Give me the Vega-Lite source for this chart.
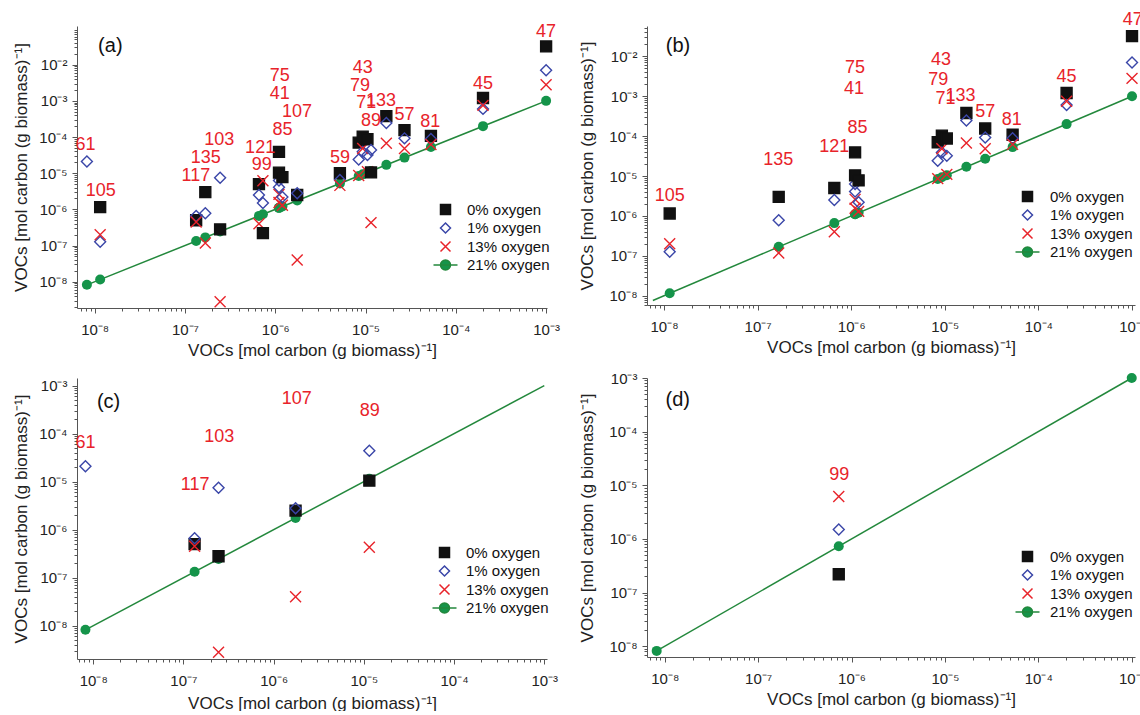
{
  "$schema": "https://vega.github.io/schema/vega-lite/v6.json",
  "padding": {"left": 12, "top": 10, "right": 0, "bottom": 0},
  "background": "white",
  "config": {
    "font": "Liberation Sans",
    "view": {"stroke": null},
    "axis": {"grid": false, "labelFontSize": 15, "titleFontSize": 17, "titleFontWeight": "normal", "labelColor": "#222", "titleColor": "#222", "domainColor": "#555", "tickColor": "#555", "labelFlush": false, "labelOverlap": false}
  },
  "datasets": {
    "line": [
      {"p": "a", "x": 8.2e-9, "y": 8.2e-9}, {"p": "a", "x": 1e-3, "y": 1e-3},
      {"p": "b", "x": 7.6e-9, "y": 7.6e-9}, {"p": "b", "x": 1e-3, "y": 1e-3},
      {"p": "c", "x": 8.2e-9, "y": 8.2e-9}, {"p": "c", "x": 1e-3, "y": 1e-3},
      {"p": "d", "x": 8.2e-9, "y": 8.2e-9}, {"p": "d", "x": 1e-3, "y": 1e-3}
    ],
    "pts": [
      {"c": "61", "g": "1% oxygen", "x": 8.2e-9, "y": 2.1e-5, "p": "ac"},
      {"c": "61", "g": "21% oxygen", "x": 8.2e-9, "y": 8.2e-9, "p": "acd"},
      {"c": "105", "g": "0% oxygen", "x": 1.15e-8, "y": 1.15e-6, "p": "ab"},
      {"c": "105", "g": "1% oxygen", "x": 1.15e-8, "y": 1.27e-7, "p": "ab"},
      {"c": "105", "g": "13% oxygen", "x": 1.15e-8, "y": 2.0e-7, "p": "ab"},
      {"c": "105", "g": "21% oxygen", "x": 1.15e-8, "y": 1.15e-8, "p": "ab"},
      {"c": "117", "g": "0% oxygen", "x": 1.33e-7, "y": 5.0e-7, "p": "ac"},
      {"c": "117", "g": "1% oxygen", "x": 1.33e-7, "y": 6.6e-7, "p": "ac"},
      {"c": "117", "g": "13% oxygen", "x": 1.33e-7, "y": 4.5e-7, "p": "ac"},
      {"c": "117", "g": "21% oxygen", "x": 1.33e-7, "y": 1.33e-7, "p": "ac"},
      {"c": "135", "g": "0% oxygen", "x": 1.68e-7, "y": 3.0e-6, "p": "ab"},
      {"c": "135", "g": "1% oxygen", "x": 1.68e-7, "y": 7.8e-7, "p": "ab"},
      {"c": "135", "g": "13% oxygen", "x": 1.68e-7, "y": 1.18e-7, "p": "ab"},
      {"c": "135", "g": "21% oxygen", "x": 1.68e-7, "y": 1.68e-7, "p": "ab"},
      {"c": "103", "g": "0% oxygen", "x": 2.45e-7, "y": 2.8e-7, "p": "ac"},
      {"c": "103", "g": "1% oxygen", "x": 2.45e-7, "y": 7.5e-6, "p": "ac"},
      {"c": "103", "g": "13% oxygen", "x": 2.45e-7, "y": 2.8e-9, "p": "ac"},
      {"c": "103", "g": "21% oxygen", "x": 2.45e-7, "y": 2.45e-7, "p": "ac"},
      {"c": "121", "g": "0% oxygen", "x": 6.6e-7, "y": 5.0e-6, "p": "ab"},
      {"c": "121", "g": "1% oxygen", "x": 6.6e-7, "y": 2.5e-6, "p": "ab"},
      {"c": "121", "g": "13% oxygen", "x": 6.6e-7, "y": 4.0e-7, "p": "ab"},
      {"c": "121", "g": "21% oxygen", "x": 6.6e-7, "y": 6.6e-7, "p": "ab"},
      {"c": "99", "g": "0% oxygen", "x": 7.3e-7, "y": 2.2e-7, "p": "ad"},
      {"c": "99", "g": "1% oxygen", "x": 7.3e-7, "y": 1.5e-6, "p": "ad"},
      {"c": "99", "g": "13% oxygen", "x": 7.3e-7, "y": 6.2e-6, "p": "ad"},
      {"c": "99", "g": "21% oxygen", "x": 7.3e-7, "y": 7.3e-7, "p": "ad"},
      {"c": "85", "g": "0% oxygen", "x": 1.1e-6, "y": 3.9e-5, "p": "ab"},
      {"c": "85", "g": "1% oxygen", "x": 1.1e-6, "y": 6.3e-6, "p": "ab"},
      {"c": "85", "g": "13% oxygen", "x": 1.1e-6, "y": 2.6e-6, "p": "ab"},
      {"c": "85", "g": "21% oxygen", "x": 1.1e-6, "y": 1.1e-6, "p": "ab"},
      {"c": "75", "g": "0% oxygen", "x": 1.1e-6, "y": 1.04e-5, "p": "ab"},
      {"c": "75", "g": "1% oxygen", "x": 1.1e-6, "y": 4.1e-6, "p": "ab"},
      {"c": "75", "g": "13% oxygen", "x": 1.1e-6, "y": 1.55e-6, "p": "ab"},
      {"c": "75", "g": "21% oxygen", "x": 1.1e-6, "y": 1.1e-6, "p": "ab"},
      {"c": "41", "g": "0% oxygen", "x": 1.2e-6, "y": 7.8e-6, "p": "ab"},
      {"c": "41", "g": "1% oxygen", "x": 1.2e-6, "y": 2.2e-6, "p": "ab"},
      {"c": "41", "g": "13% oxygen", "x": 1.2e-6, "y": 1.3e-6, "p": "ab"},
      {"c": "41", "g": "21% oxygen", "x": 1.2e-6, "y": 1.2e-6, "p": "ab"},
      {"c": "107", "g": "0% oxygen", "x": 1.75e-6, "y": 2.5e-6, "p": "ac"},
      {"c": "107", "g": "1% oxygen", "x": 1.75e-6, "y": 2.8e-6, "p": "ac"},
      {"c": "107", "g": "13% oxygen", "x": 1.75e-6, "y": 4.0e-8, "p": "ac"},
      {"c": "107", "g": "21% oxygen", "x": 1.75e-6, "y": 1.75e-6, "p": "ac"},
      {"c": "59", "g": "0% oxygen", "x": 5.2e-6, "y": 1.0e-5, "p": "a"},
      {"c": "59", "g": "1% oxygen", "x": 5.2e-6, "y": 6.5e-6, "p": "a"},
      {"c": "59", "g": "13% oxygen", "x": 5.2e-6, "y": 4.6e-6, "p": "a"},
      {"c": "59", "g": "21% oxygen", "x": 5.2e-6, "y": 5.2e-6, "p": "a"},
      {"c": "79", "g": "0% oxygen", "x": 8.4e-6, "y": 7.0e-5, "p": "ab"},
      {"c": "79", "g": "1% oxygen", "x": 8.4e-6, "y": 2.4e-5, "p": "ab"},
      {"c": "79", "g": "13% oxygen", "x": 8.4e-6, "y": 8.6e-6, "p": "ab"},
      {"c": "79", "g": "21% oxygen", "x": 8.4e-6, "y": 8.4e-6, "p": "ab"},
      {"c": "43", "g": "0% oxygen", "x": 9.3e-6, "y": 1.03e-4, "p": "ab"},
      {"c": "43", "g": "1% oxygen", "x": 9.3e-6, "y": 3.9e-5, "p": "ab"},
      {"c": "43", "g": "13% oxygen", "x": 9.3e-6, "y": 4.8e-5, "p": "ab"},
      {"c": "43", "g": "21% oxygen", "x": 9.3e-6, "y": 9.3e-6, "p": "ab"},
      {"c": "71", "g": "0% oxygen", "x": 1.05e-5, "y": 8.7e-5, "p": "ab"},
      {"c": "71", "g": "1% oxygen", "x": 1.05e-5, "y": 3.2e-5, "p": "ab"},
      {"c": "71", "g": "13% oxygen", "x": 1.05e-5, "y": 1.1e-5, "p": "ab"},
      {"c": "71", "g": "21% oxygen", "x": 1.05e-5, "y": 1.05e-5, "p": "ab"},
      {"c": "89", "g": "0% oxygen", "x": 1.15e-5, "y": 1.05e-5, "p": "ac"},
      {"c": "89", "g": "1% oxygen", "x": 1.15e-5, "y": 4.4e-5, "p": "ac"},
      {"c": "89", "g": "13% oxygen", "x": 1.15e-5, "y": 4.3e-7, "p": "ac"},
      {"c": "89", "g": "21% oxygen", "x": 1.15e-5, "y": 1.15e-5, "p": "ac"},
      {"c": "133", "g": "0% oxygen", "x": 1.7e-5, "y": 3.8e-4, "p": "ab"},
      {"c": "133", "g": "1% oxygen", "x": 1.7e-5, "y": 2.45e-4, "p": "ab"},
      {"c": "133", "g": "13% oxygen", "x": 1.7e-5, "y": 6.7e-5, "p": "ab"},
      {"c": "133", "g": "21% oxygen", "x": 1.7e-5, "y": 1.7e-5, "p": "ab"},
      {"c": "57", "g": "0% oxygen", "x": 2.7e-5, "y": 1.55e-4, "p": "ab"},
      {"c": "57", "g": "1% oxygen", "x": 2.7e-5, "y": 9.2e-5, "p": "ab"},
      {"c": "57", "g": "13% oxygen", "x": 2.7e-5, "y": 4.8e-5, "p": "ab"},
      {"c": "57", "g": "21% oxygen", "x": 2.7e-5, "y": 2.7e-5, "p": "ab"},
      {"c": "81", "g": "0% oxygen", "x": 5.3e-5, "y": 1.08e-4, "p": "ab"},
      {"c": "81", "g": "1% oxygen", "x": 5.3e-5, "y": 8.8e-5, "p": "ab"},
      {"c": "81", "g": "13% oxygen", "x": 5.3e-5, "y": 6.2e-5, "p": "ab"},
      {"c": "81", "g": "21% oxygen", "x": 5.3e-5, "y": 5.3e-5, "p": "ab"},
      {"c": "45", "g": "0% oxygen", "x": 2.0e-4, "y": 1.2e-3, "p": "ab"},
      {"c": "45", "g": "1% oxygen", "x": 2.0e-4, "y": 6.0e-4, "p": "ab"},
      {"c": "45", "g": "13% oxygen", "x": 2.0e-4, "y": 7.5e-4, "p": "ab"},
      {"c": "45", "g": "21% oxygen", "x": 2.0e-4, "y": 2.0e-4, "p": "ab"},
      {"c": "47", "g": "0% oxygen", "x": 1.0e-3, "y": 3.2e-2, "p": "ab"},
      {"c": "47", "g": "1% oxygen", "x": 1.0e-3, "y": 7.0e-3, "p": "ab"},
      {"c": "47", "g": "13% oxygen", "x": 1.0e-3, "y": 2.8e-3, "p": "ab"},
      {"c": "47", "g": "21% oxygen", "x": 1.0e-3, "y": 1.0e-3, "p": "abd"}
    ],
    "lab": [
      {"p": "a", "t": "61", "x": 7.9e-9, "y": 6.2e-5},
      {"p": "a", "t": "105", "x": 1.17e-8, "y": 3.2e-6},
      {"p": "a", "t": "117", "x": 1.32e-7, "y": 8.5e-6},
      {"p": "a", "t": "135", "x": 1.7e-7, "y": 2.6e-5},
      {"p": "a", "t": "103", "x": 2.4e-7, "y": 8.3e-5},
      {"p": "a", "t": "121", "x": 6.8e-7, "y": 5.1e-5},
      {"p": "a", "t": "99", "x": 7.1e-7, "y": 1.7e-5},
      {"p": "a", "t": "75", "x": 1.12e-6, "y": 5.0e-3},
      {"p": "a", "t": "41", "x": 1.12e-6, "y": 1.5e-3},
      {"p": "a", "t": "107", "x": 1.74e-6, "y": 5.0e-4},
      {"p": "a", "t": "85", "x": 1.2e-6, "y": 1.55e-4},
      {"p": "a", "t": "59", "x": 5.2e-6, "y": 2.6e-5},
      {"p": "a", "t": "43", "x": 9.3e-6, "y": 7.9e-3},
      {"p": "a", "t": "79", "x": 8.7e-6, "y": 2.5e-3},
      {"p": "a", "t": "71", "x": 1.02e-5, "y": 8.5e-4},
      {"p": "a", "t": "133", "x": 1.48e-5, "y": 1.0e-3},
      {"p": "a", "t": "89", "x": 1.15e-5, "y": 2.8e-4},
      {"p": "a", "t": "57", "x": 2.7e-5, "y": 4.1e-4},
      {"p": "a", "t": "81", "x": 5.2e-5, "y": 2.6e-4},
      {"p": "a", "t": "45", "x": 2.0e-4, "y": 2.9e-3},
      {"p": "a", "t": "47", "x": 1.0e-3, "y": 7.8e-2},
      {"p": "b", "t": "105", "x": 1.15e-8, "y": 3.1e-6},
      {"p": "b", "t": "135", "x": 1.66e-7, "y": 2.5e-5},
      {"p": "b", "t": "121", "x": 6.6e-7, "y": 5.2e-5},
      {"p": "b", "t": "75", "x": 1.1e-6, "y": 5.1e-3},
      {"p": "b", "t": "41", "x": 1.07e-6, "y": 1.5e-3},
      {"p": "b", "t": "85", "x": 1.17e-6, "y": 1.6e-4},
      {"p": "b", "t": "43", "x": 9.1e-6, "y": 8.3e-3},
      {"p": "b", "t": "79", "x": 8.5e-6, "y": 2.6e-3},
      {"p": "b", "t": "71", "x": 1.02e-5, "y": 8.5e-4},
      {"p": "b", "t": "133", "x": 1.47e-5, "y": 1.0e-3},
      {"p": "b", "t": "57", "x": 2.7e-5, "y": 4.1e-4},
      {"p": "b", "t": "81", "x": 5.2e-5, "y": 2.5e-4},
      {"p": "b", "t": "45", "x": 2.0e-4, "y": 3.1e-3},
      {"p": "b", "t": "47", "x": 1.02e-3, "y": 8.3e-2},
      {"p": "c", "t": "61", "x": 8.2e-9, "y": 6.3e-5},
      {"p": "c", "t": "117", "x": 1.35e-7, "y": 8.5e-6},
      {"p": "c", "t": "103", "x": 2.5e-7, "y": 8.4e-5},
      {"p": "c", "t": "107", "x": 1.8e-6, "y": 5.3e-4},
      {"p": "c", "t": "89", "x": 1.16e-5, "y": 2.9e-4},
      {"p": "d", "t": "99", "x": 7.4e-7, "y": 1.55e-5}
    ],
    "tag": [
      {"p": "a", "t": "(a)", "x": 1.49e-8, "y": 3.35e-2},
      {"p": "b", "t": "(b)", "x": 1.41e-8, "y": 1.85e-2},
      {"p": "c", "t": "(c)", "x": 1.48e-8, "y": 4.5e-4},
      {"p": "d", "t": "(d)", "x": 1.38e-8, "y": 3.9e-4}
    ]
  },
  "columns": 2,
  "spacing": {"row": 70, "column": 100},
  "align": "each",
  "bounds": "flush",
  "resolve": {
    "scale": {"shape": "independent", "fill": "independent", "stroke": "independent"},
    "legend": {"shape": "independent", "fill": "independent", "stroke": "independent"}
  },
  "concat": [
    {
      "width": 470, "height": 282,
      "resolve": {"axis": {"x": "independent", "y": "independent"}},
      "layer": [
        {
          "data": {"name": "line"}, "transform": [{"filter": "datum.p == 'a'"}],
          "mark": {"type": "line", "color": "#23883c", "strokeWidth": 1.5},
          "encoding": {
            "x": {"field": "x", "type": "quantitative", "scale": {"type": "log", "domain": [6.37e-9, 1.023e-3], "nice": false},
              "axis": {"orient": "bottom", "values": [1e-8, 1e-7, 1e-6, 1e-5, 1e-4, 1e-3], "labelExpr": "'10⁻' + substring('⁰¹²³⁴⁵⁶⁷⁸⁹', round(-log(datum.value)/LN10), round(-log(datum.value)/LN10)+1)", "tickSize": 5, "labelPadding": 9, "title": "VOCs [mol carbon (g biomass)⁻¹]", "titlePadding": 5}},
            "y": {"field": "y", "type": "quantitative", "scale": {"type": "log", "domain": [1.875e-9, 0.1175], "nice": false},
              "axis": {"orient": "left", "values": [1e-8, 1e-7, 1e-6, 1e-5, 1e-4, 1e-3, 1e-2], "labelExpr": "'10⁻' + substring('⁰¹²³⁴⁵⁶⁷⁸⁹', round(-log(datum.value)/LN10), round(-log(datum.value)/LN10)+1)", "tickSize": 5, "labelPadding": 5, "title": "VOCs [mol carbon (g biomass)⁻¹]", "titlePadding": 8}}
          }
        },
        {
          "data": {"name": "pts"}, "transform": [{"filter": "indexof(datum.p, 'a') >= 0 && datum.g == '21% oxygen'"}],
          "mark": {"type": "circle", "size": 100, "color": "#15944a", "opacity": 1},
          "encoding": {
            "x": {"field": "x", "type": "quantitative", "scale": {"type": "log", "domain": [6.37e-9, 1.023e-3], "nice": false},
              "axis": {"orient": "bottom", "values": [7e-9, 8e-9, 9e-9, 2e-8, 3e-8, 4e-8, 5e-8, 6e-8, 7e-8, 8e-8, 9e-8, 2e-7, 3e-7, 4e-7, 5e-7, 6e-7, 7e-7, 8e-7, 9e-7, 2e-6, 3e-6, 4e-6, 5e-6, 6e-6, 7e-6, 8e-6, 9e-6, 2e-5, 3e-5, 4e-5, 5e-5, 6e-5, 7e-5, 8e-5, 9e-5, 2e-4, 3e-4, 4e-4, 5e-4, 6e-4, 7e-4, 8e-4, 9e-4], "labels": false, "domain": false, "tickSize": 3, "title": null}},
            "y": {"field": "y", "type": "quantitative", "scale": {"type": "log", "domain": [1.875e-9, 0.1175], "nice": false},
              "axis": {"orient": "left", "values": [2e-9, 3e-9, 4e-9, 5e-9, 6e-9, 7e-9, 8e-9, 9e-9, 2e-8, 3e-8, 4e-8, 5e-8, 6e-8, 7e-8, 8e-8, 9e-8, 2e-7, 3e-7, 4e-7, 5e-7, 6e-7, 7e-7, 8e-7, 9e-7, 2e-6, 3e-6, 4e-6, 5e-6, 6e-6, 7e-6, 8e-6, 9e-6, 2e-5, 3e-5, 4e-5, 5e-5, 6e-5, 7e-5, 8e-5, 9e-5, 2e-4, 3e-4, 4e-4, 5e-4, 6e-4, 7e-4, 8e-4, 9e-4, 2e-3, 3e-3, 4e-3, 5e-3, 6e-3, 7e-3, 8e-3, 9e-3, 2e-2, 3e-2, 4e-2, 5e-2, 6e-2, 7e-2, 8e-2, 9e-2], "labels": false, "domain": false, "tickSize": 3, "title": null}}
          }
        },
        {
          "data": {"name": "pts"}, "transform": [{"filter": "indexof(datum.p, 'a') >= 0 && datum.g != '21% oxygen'"}],
          "mark": {"type": "point", "size": 120, "strokeWidth": 1.4, "opacity": 1},
          "encoding": {
            "x": {"field": "x", "type": "quantitative", "scale": {"type": "log", "domain": [6.37e-9, 1.023e-3], "nice": false}, "axis": null},
            "y": {"field": "y", "type": "quantitative", "scale": {"type": "log", "domain": [1.875e-9, 0.1175], "nice": false}, "axis": null},
            "shape": {"field": "g", "type": "nominal", "scale": {"domain": ["0% oxygen", "1% oxygen", "13% oxygen", "21% oxygen"], "range": ["square", "diamond", "M-1,-1L1,1M-1,1L1,-1", "M-2.4,0L2.4,0M1,0A1,1,0,1,1,-1,0A1,1,0,1,1,1,0Z"]},
              "legend": {"orient": "none", "legendX": 361, "legendY": 176, "title": null, "labelFontSize": 15, "symbolSize": 100, "symbolStrokeWidth": 1.5, "labelOffset": 14, "rowPadding": 1.5, "labelColor": "#111"}},
            "fill": {"field": "g", "type": "nominal", "scale": {"domain": ["0% oxygen", "1% oxygen", "13% oxygen", "21% oxygen"], "range": ["#111111", "transparent", "transparent", "#15944a"]},
              "legend": {"orient": "none", "legendX": 361, "legendY": 176, "title": null, "labelFontSize": 15, "symbolSize": 100, "symbolStrokeWidth": 1.5, "labelOffset": 14, "rowPadding": 1.5, "labelColor": "#111"}},
            "stroke": {"field": "g", "type": "nominal", "scale": {"domain": ["0% oxygen", "1% oxygen", "13% oxygen", "21% oxygen"], "range": ["#111111", "#3a46a8", "#e8232a", "#23883c"]},
              "legend": {"orient": "none", "legendX": 361, "legendY": 176, "title": null, "labelFontSize": 15, "symbolSize": 100, "symbolStrokeWidth": 1.5, "labelOffset": 14, "rowPadding": 1.5, "labelColor": "#111"}}
          }
        },
        {
          "data": {"name": "lab"}, "transform": [{"filter": "datum.p == 'a'"}],
          "mark": {"type": "text", "fontSize": 18, "color": "#e8232a"},
          "encoding": {
            "x": {"field": "x", "type": "quantitative", "scale": {"type": "log", "domain": [6.37e-9, 1.023e-3], "nice": false}, "axis": null},
            "y": {"field": "y", "type": "quantitative", "scale": {"type": "log", "domain": [1.875e-9, 0.1175], "nice": false}, "axis": null},
            "text": {"field": "t"}
          }
        },
        {
          "data": {"name": "tag"}, "transform": [{"filter": "datum.p == 'a'"}],
          "mark": {"type": "text", "fontSize": 20, "color": "#111"},
          "encoding": {
            "x": {"field": "x", "type": "quantitative", "scale": {"type": "log", "domain": [6.37e-9, 1.023e-3], "nice": false}, "axis": null},
            "y": {"field": "y", "type": "quantitative", "scale": {"type": "log", "domain": [1.875e-9, 0.1175], "nice": false}, "axis": null},
            "text": {"field": "t"}
          }
        }
      ]
    },
    {
      "width": 488, "height": 279,
      "resolve": {"axis": {"x": "independent", "y": "independent"}},
      "layer": [
        {
          "data": {"name": "line"}, "transform": [{"filter": "datum.p == 'b'"}],
          "mark": {"type": "line", "color": "#23883c", "strokeWidth": 1.5},
          "encoding": {
            "x": {"field": "x", "type": "quantitative", "scale": {"type": "log", "domain": [6.58e-9, 1.076e-3], "nice": false},
              "axis": {"orient": "bottom", "values": [1e-8, 1e-7, 1e-6, 1e-5, 1e-4, 1e-3], "labelExpr": "'10⁻' + substring('⁰¹²³⁴⁵⁶⁷⁸⁹', round(-log(datum.value)/LN10), round(-log(datum.value)/LN10)+1)", "tickSize": 5, "labelPadding": 9, "title": "VOCs [mol carbon (g biomass)⁻¹]", "titlePadding": 5}},
            "y": {"field": "y", "type": "quantitative", "scale": {"type": "log", "domain": [5.85e-9, 0.0575], "nice": false},
              "axis": {"orient": "left", "values": [1e-8, 1e-7, 1e-6, 1e-5, 1e-4, 1e-3, 1e-2], "labelExpr": "'10⁻' + substring('⁰¹²³⁴⁵⁶⁷⁸⁹', round(-log(datum.value)/LN10), round(-log(datum.value)/LN10)+1)", "tickSize": 5, "labelPadding": 5, "title": "VOCs [mol carbon (g biomass)⁻¹]", "titlePadding": 12}}
          }
        },
        {
          "data": {"name": "pts"}, "transform": [{"filter": "indexof(datum.p, 'b') >= 0 && datum.g == '21% oxygen'"}],
          "mark": {"type": "circle", "size": 100, "color": "#15944a", "opacity": 1},
          "encoding": {
            "x": {"field": "x", "type": "quantitative", "scale": {"type": "log", "domain": [6.58e-9, 1.076e-3], "nice": false},
              "axis": {"orient": "bottom", "values": [7e-9, 8e-9, 9e-9, 2e-8, 3e-8, 4e-8, 5e-8, 6e-8, 7e-8, 8e-8, 9e-8, 2e-7, 3e-7, 4e-7, 5e-7, 6e-7, 7e-7, 8e-7, 9e-7, 2e-6, 3e-6, 4e-6, 5e-6, 6e-6, 7e-6, 8e-6, 9e-6, 2e-5, 3e-5, 4e-5, 5e-5, 6e-5, 7e-5, 8e-5, 9e-5, 2e-4, 3e-4, 4e-4, 5e-4, 6e-4, 7e-4, 8e-4, 9e-4], "labels": false, "domain": false, "tickSize": 3, "title": null}},
            "y": {"field": "y", "type": "quantitative", "scale": {"type": "log", "domain": [5.85e-9, 0.0575], "nice": false},
              "axis": {"orient": "left", "values": [6e-9, 7e-9, 8e-9, 9e-9, 2e-8, 3e-8, 4e-8, 5e-8, 6e-8, 7e-8, 8e-8, 9e-8, 2e-7, 3e-7, 4e-7, 5e-7, 6e-7, 7e-7, 8e-7, 9e-7, 2e-6, 3e-6, 4e-6, 5e-6, 6e-6, 7e-6, 8e-6, 9e-6, 2e-5, 3e-5, 4e-5, 5e-5, 6e-5, 7e-5, 8e-5, 9e-5, 2e-4, 3e-4, 4e-4, 5e-4, 6e-4, 7e-4, 8e-4, 9e-4, 2e-3, 3e-3, 4e-3, 5e-3, 6e-3, 7e-3, 8e-3, 9e-3, 2e-2, 3e-2, 4e-2, 5e-2], "labels": false, "domain": false, "tickSize": 3, "title": null}}
          }
        },
        {
          "data": {"name": "pts"}, "transform": [{"filter": "indexof(datum.p, 'b') >= 0 && datum.g != '21% oxygen'"}],
          "mark": {"type": "point", "size": 120, "strokeWidth": 1.4, "opacity": 1},
          "encoding": {
            "x": {"field": "x", "type": "quantitative", "scale": {"type": "log", "domain": [6.58e-9, 1.076e-3], "nice": false}, "axis": null},
            "y": {"field": "y", "type": "quantitative", "scale": {"type": "log", "domain": [5.85e-9, 0.0575], "nice": false}, "axis": null},
            "shape": {"field": "g", "type": "nominal", "scale": {"domain": ["0% oxygen", "1% oxygen", "13% oxygen", "21% oxygen"], "range": ["square", "diamond", "M-1,-1L1,1M-1,1L1,-1", "M-2.4,0L2.4,0M1,0A1,1,0,1,1,-1,0A1,1,0,1,1,1,0Z"]},
              "legend": {"orient": "none", "legendX": 373, "legendY": 163, "title": null, "labelFontSize": 15, "symbolSize": 100, "symbolStrokeWidth": 1.5, "labelOffset": 15, "rowPadding": 1.5, "labelColor": "#111"}},
            "fill": {"field": "g", "type": "nominal", "scale": {"domain": ["0% oxygen", "1% oxygen", "13% oxygen", "21% oxygen"], "range": ["#111111", "transparent", "transparent", "#15944a"]},
              "legend": {"orient": "none", "legendX": 373, "legendY": 163, "title": null, "labelFontSize": 15, "symbolSize": 100, "symbolStrokeWidth": 1.5, "labelOffset": 15, "rowPadding": 1.5, "labelColor": "#111"}},
            "stroke": {"field": "g", "type": "nominal", "scale": {"domain": ["0% oxygen", "1% oxygen", "13% oxygen", "21% oxygen"], "range": ["#111111", "#3a46a8", "#e8232a", "#23883c"]},
              "legend": {"orient": "none", "legendX": 373, "legendY": 163, "title": null, "labelFontSize": 15, "symbolSize": 100, "symbolStrokeWidth": 1.5, "labelOffset": 15, "rowPadding": 1.5, "labelColor": "#111"}}
          }
        },
        {
          "data": {"name": "lab"}, "transform": [{"filter": "datum.p == 'b'"}],
          "mark": {"type": "text", "fontSize": 18, "color": "#e8232a"},
          "encoding": {
            "x": {"field": "x", "type": "quantitative", "scale": {"type": "log", "domain": [6.58e-9, 1.076e-3], "nice": false}, "axis": null},
            "y": {"field": "y", "type": "quantitative", "scale": {"type": "log", "domain": [5.85e-9, 0.0575], "nice": false}, "axis": null},
            "text": {"field": "t"}
          }
        },
        {
          "data": {"name": "tag"}, "transform": [{"filter": "datum.p == 'b'"}],
          "mark": {"type": "text", "fontSize": 20, "color": "#111"},
          "encoding": {
            "x": {"field": "x", "type": "quantitative", "scale": {"type": "log", "domain": [6.58e-9, 1.076e-3], "nice": false}, "axis": null},
            "y": {"field": "y", "type": "quantitative", "scale": {"type": "log", "domain": [5.85e-9, 0.0575], "nice": false}, "axis": null},
            "text": {"field": "t"}
          }
        }
      ]
    },
    {
      "width": 470, "height": 281,
      "resolve": {"axis": {"x": "independent", "y": "independent"}},
      "layer": [
        {
          "data": {"name": "line"}, "transform": [{"filter": "datum.p == 'c'"}],
          "mark": {"type": "line", "color": "#23883c", "strokeWidth": 1.5},
          "encoding": {
            "x": {"field": "x", "type": "quantitative", "scale": {"type": "log", "domain": [6.61e-9, 1.072e-3], "nice": false},
              "axis": {"orient": "bottom", "values": [1e-8, 1e-7, 1e-6, 1e-5, 1e-4, 1e-3], "labelExpr": "'10⁻' + substring('⁰¹²³⁴⁵⁶⁷⁸⁹', round(-log(datum.value)/LN10), round(-log(datum.value)/LN10)+1)", "tickSize": 5, "labelPadding": 9, "title": "VOCs [mol carbon (g biomass)⁻¹]", "titlePadding": 7}},
            "y": {"field": "y", "type": "quantitative", "scale": {"type": "log", "domain": [2.02e-9, 1.445e-3], "nice": false},
              "axis": {"orient": "left", "values": [1e-8, 1e-7, 1e-6, 1e-5, 1e-4, 1e-3], "labelExpr": "'10⁻' + substring('⁰¹²³⁴⁵⁶⁷⁸⁹', round(-log(datum.value)/LN10), round(-log(datum.value)/LN10)+1)", "tickSize": 5, "labelPadding": 5, "title": "VOCs [mol carbon (g biomass)⁻¹]", "titlePadding": 8}}
          }
        },
        {
          "data": {"name": "pts"}, "transform": [{"filter": "indexof(datum.p, 'c') >= 0 && datum.g == '21% oxygen'"}],
          "mark": {"type": "circle", "size": 100, "color": "#15944a", "opacity": 1},
          "encoding": {
            "x": {"field": "x", "type": "quantitative", "scale": {"type": "log", "domain": [6.61e-9, 1.072e-3], "nice": false},
              "axis": {"orient": "bottom", "values": [7e-9, 8e-9, 9e-9, 2e-8, 3e-8, 4e-8, 5e-8, 6e-8, 7e-8, 8e-8, 9e-8, 2e-7, 3e-7, 4e-7, 5e-7, 6e-7, 7e-7, 8e-7, 9e-7, 2e-6, 3e-6, 4e-6, 5e-6, 6e-6, 7e-6, 8e-6, 9e-6, 2e-5, 3e-5, 4e-5, 5e-5, 6e-5, 7e-5, 8e-5, 9e-5, 2e-4, 3e-4, 4e-4, 5e-4, 6e-4, 7e-4, 8e-4, 9e-4], "labels": false, "domain": false, "tickSize": 3, "title": null}},
            "y": {"field": "y", "type": "quantitative", "scale": {"type": "log", "domain": [2.02e-9, 1.445e-3], "nice": false},
              "axis": {"orient": "left", "values": [3e-9, 4e-9, 5e-9, 6e-9, 7e-9, 8e-9, 9e-9, 2e-8, 3e-8, 4e-8, 5e-8, 6e-8, 7e-8, 8e-8, 9e-8, 2e-7, 3e-7, 4e-7, 5e-7, 6e-7, 7e-7, 8e-7, 9e-7, 2e-6, 3e-6, 4e-6, 5e-6, 6e-6, 7e-6, 8e-6, 9e-6, 2e-5, 3e-5, 4e-5, 5e-5, 6e-5, 7e-5, 8e-5, 9e-5, 2e-4, 3e-4, 4e-4, 5e-4, 6e-4, 7e-4, 8e-4, 9e-4], "labels": false, "domain": false, "tickSize": 3, "title": null}}
          }
        },
        {
          "data": {"name": "pts"}, "transform": [{"filter": "indexof(datum.p, 'c') >= 0 && datum.g != '21% oxygen'"}],
          "mark": {"type": "point", "size": 120, "strokeWidth": 1.4, "opacity": 1},
          "encoding": {
            "x": {"field": "x", "type": "quantitative", "scale": {"type": "log", "domain": [6.61e-9, 1.072e-3], "nice": false}, "axis": null},
            "y": {"field": "y", "type": "quantitative", "scale": {"type": "log", "domain": [2.02e-9, 1.445e-3], "nice": false}, "axis": null},
            "shape": {"field": "g", "type": "nominal", "scale": {"domain": ["0% oxygen", "1% oxygen", "13% oxygen", "21% oxygen"], "range": ["square", "diamond", "M-1,-1L1,1M-1,1L1,-1", "M-2.4,0L2.4,0M1,0A1,1,0,1,1,-1,0A1,1,0,1,1,1,0Z"]},
              "legend": {"orient": "none", "legendX": 360, "legendY": 167, "title": null, "labelFontSize": 15, "symbolSize": 100, "symbolStrokeWidth": 1.5, "labelOffset": 14, "rowPadding": 1.5, "labelColor": "#111"}},
            "fill": {"field": "g", "type": "nominal", "scale": {"domain": ["0% oxygen", "1% oxygen", "13% oxygen", "21% oxygen"], "range": ["#111111", "transparent", "transparent", "#15944a"]},
              "legend": {"orient": "none", "legendX": 360, "legendY": 167, "title": null, "labelFontSize": 15, "symbolSize": 100, "symbolStrokeWidth": 1.5, "labelOffset": 14, "rowPadding": 1.5, "labelColor": "#111"}},
            "stroke": {"field": "g", "type": "nominal", "scale": {"domain": ["0% oxygen", "1% oxygen", "13% oxygen", "21% oxygen"], "range": ["#111111", "#3a46a8", "#e8232a", "#23883c"]},
              "legend": {"orient": "none", "legendX": 360, "legendY": 167, "title": null, "labelFontSize": 15, "symbolSize": 100, "symbolStrokeWidth": 1.5, "labelOffset": 14, "rowPadding": 1.5, "labelColor": "#111"}}
          }
        },
        {
          "data": {"name": "lab"}, "transform": [{"filter": "datum.p == 'c'"}],
          "mark": {"type": "text", "fontSize": 18, "color": "#e8232a"},
          "encoding": {
            "x": {"field": "x", "type": "quantitative", "scale": {"type": "log", "domain": [6.61e-9, 1.072e-3], "nice": false}, "axis": null},
            "y": {"field": "y", "type": "quantitative", "scale": {"type": "log", "domain": [2.02e-9, 1.445e-3], "nice": false}, "axis": null},
            "text": {"field": "t"}
          }
        },
        {
          "data": {"name": "tag"}, "transform": [{"filter": "datum.p == 'c'"}],
          "mark": {"type": "text", "fontSize": 20, "color": "#111"},
          "encoding": {
            "x": {"field": "x", "type": "quantitative", "scale": {"type": "log", "domain": [6.61e-9, 1.072e-3], "nice": false}, "axis": null},
            "y": {"field": "y", "type": "quantitative", "scale": {"type": "log", "domain": [2.02e-9, 1.445e-3], "nice": false}, "axis": null},
            "text": {"field": "t"}
          }
        }
      ]
    },
    {
      "width": 488, "height": 279,
      "resolve": {"axis": {"x": "independent", "y": "independent"}},
      "layer": [
        {
          "data": {"name": "line"}, "transform": [{"filter": "datum.p == 'd'"}],
          "mark": {"type": "line", "color": "#23883c", "strokeWidth": 1.5},
          "encoding": {
            "x": {"field": "x", "type": "quantitative", "scale": {"type": "log", "domain": [6.46e-9, 1.084e-3], "nice": false},
              "axis": {"orient": "bottom", "values": [1e-8, 1e-7, 1e-6, 1e-5, 1e-4, 1e-3], "labelExpr": "'10⁻' + substring('⁰¹²³⁴⁵⁶⁷⁸⁹', round(-log(datum.value)/LN10), round(-log(datum.value)/LN10)+1)", "tickSize": 5, "labelPadding": 9, "title": "VOCs [mol carbon (g biomass)⁻¹]", "titlePadding": 5}},
            "y": {"field": "y", "type": "quantitative", "scale": {"type": "log", "domain": [6.31e-9, 1e-3], "nice": false},
              "axis": {"orient": "left", "values": [1e-8, 1e-7, 1e-6, 1e-5, 1e-4, 1e-3], "labelExpr": "'10⁻' + substring('⁰¹²³⁴⁵⁶⁷⁸⁹', round(-log(datum.value)/LN10), round(-log(datum.value)/LN10)+1)", "tickSize": 5, "labelPadding": 5, "title": "VOCs [mol carbon (g biomass)⁻¹]", "titlePadding": 12}}
          }
        },
        {
          "data": {"name": "pts"}, "transform": [{"filter": "indexof(datum.p, 'd') >= 0 && datum.g == '21% oxygen'"}],
          "mark": {"type": "circle", "size": 100, "color": "#15944a", "opacity": 1},
          "encoding": {
            "x": {"field": "x", "type": "quantitative", "scale": {"type": "log", "domain": [6.46e-9, 1.084e-3], "nice": false},
              "axis": {"orient": "bottom", "values": [7e-9, 8e-9, 9e-9, 2e-8, 3e-8, 4e-8, 5e-8, 6e-8, 7e-8, 8e-8, 9e-8, 2e-7, 3e-7, 4e-7, 5e-7, 6e-7, 7e-7, 8e-7, 9e-7, 2e-6, 3e-6, 4e-6, 5e-6, 6e-6, 7e-6, 8e-6, 9e-6, 2e-5, 3e-5, 4e-5, 5e-5, 6e-5, 7e-5, 8e-5, 9e-5, 2e-4, 3e-4, 4e-4, 5e-4, 6e-4, 7e-4, 8e-4, 9e-4], "labels": false, "domain": false, "tickSize": 3, "title": null}},
            "y": {"field": "y", "type": "quantitative", "scale": {"type": "log", "domain": [6.31e-9, 1e-3], "nice": false},
              "axis": {"orient": "left", "values": [7e-9, 8e-9, 9e-9, 2e-8, 3e-8, 4e-8, 5e-8, 6e-8, 7e-8, 8e-8, 9e-8, 2e-7, 3e-7, 4e-7, 5e-7, 6e-7, 7e-7, 8e-7, 9e-7, 2e-6, 3e-6, 4e-6, 5e-6, 6e-6, 7e-6, 8e-6, 9e-6, 2e-5, 3e-5, 4e-5, 5e-5, 6e-5, 7e-5, 8e-5, 9e-5, 2e-4, 3e-4, 4e-4, 5e-4, 6e-4, 7e-4, 8e-4, 9e-4], "labels": false, "domain": false, "tickSize": 3, "title": null}}
          }
        },
        {
          "data": {"name": "pts"}, "transform": [{"filter": "indexof(datum.p, 'd') >= 0 && datum.g != '21% oxygen'"}],
          "mark": {"type": "point", "size": 120, "strokeWidth": 1.4, "opacity": 1},
          "encoding": {
            "x": {"field": "x", "type": "quantitative", "scale": {"type": "log", "domain": [6.46e-9, 1.084e-3], "nice": false}, "axis": null},
            "y": {"field": "y", "type": "quantitative", "scale": {"type": "log", "domain": [6.31e-9, 1e-3], "nice": false}, "axis": null},
            "shape": {"field": "g", "type": "nominal", "scale": {"domain": ["0% oxygen", "1% oxygen", "13% oxygen", "21% oxygen"], "range": ["square", "diamond", "M-1,-1L1,1M-1,1L1,-1", "M-2.4,0L2.4,0M1,0A1,1,0,1,1,-1,0A1,1,0,1,1,1,0Z"]},
              "legend": {"orient": "none", "legendX": 373, "legendY": 171, "title": null, "labelFontSize": 15, "symbolSize": 100, "symbolStrokeWidth": 1.5, "labelOffset": 15, "rowPadding": 1.5, "labelColor": "#111"}},
            "fill": {"field": "g", "type": "nominal", "scale": {"domain": ["0% oxygen", "1% oxygen", "13% oxygen", "21% oxygen"], "range": ["#111111", "transparent", "transparent", "#15944a"]},
              "legend": {"orient": "none", "legendX": 373, "legendY": 171, "title": null, "labelFontSize": 15, "symbolSize": 100, "symbolStrokeWidth": 1.5, "labelOffset": 15, "rowPadding": 1.5, "labelColor": "#111"}},
            "stroke": {"field": "g", "type": "nominal", "scale": {"domain": ["0% oxygen", "1% oxygen", "13% oxygen", "21% oxygen"], "range": ["#111111", "#3a46a8", "#e8232a", "#23883c"]},
              "legend": {"orient": "none", "legendX": 373, "legendY": 171, "title": null, "labelFontSize": 15, "symbolSize": 100, "symbolStrokeWidth": 1.5, "labelOffset": 15, "rowPadding": 1.5, "labelColor": "#111"}}
          }
        },
        {
          "data": {"name": "lab"}, "transform": [{"filter": "datum.p == 'd'"}],
          "mark": {"type": "text", "fontSize": 18, "color": "#e8232a"},
          "encoding": {
            "x": {"field": "x", "type": "quantitative", "scale": {"type": "log", "domain": [6.46e-9, 1.084e-3], "nice": false}, "axis": null},
            "y": {"field": "y", "type": "quantitative", "scale": {"type": "log", "domain": [6.31e-9, 1e-3], "nice": false}, "axis": null},
            "text": {"field": "t"}
          }
        },
        {
          "data": {"name": "tag"}, "transform": [{"filter": "datum.p == 'd'"}],
          "mark": {"type": "text", "fontSize": 20, "color": "#111"},
          "encoding": {
            "x": {"field": "x", "type": "quantitative", "scale": {"type": "log", "domain": [6.46e-9, 1.084e-3], "nice": false}, "axis": null},
            "y": {"field": "y", "type": "quantitative", "scale": {"type": "log", "domain": [6.31e-9, 1e-3], "nice": false}, "axis": null},
            "text": {"field": "t"}
          }
        }
      ]
    }
  ]
}
